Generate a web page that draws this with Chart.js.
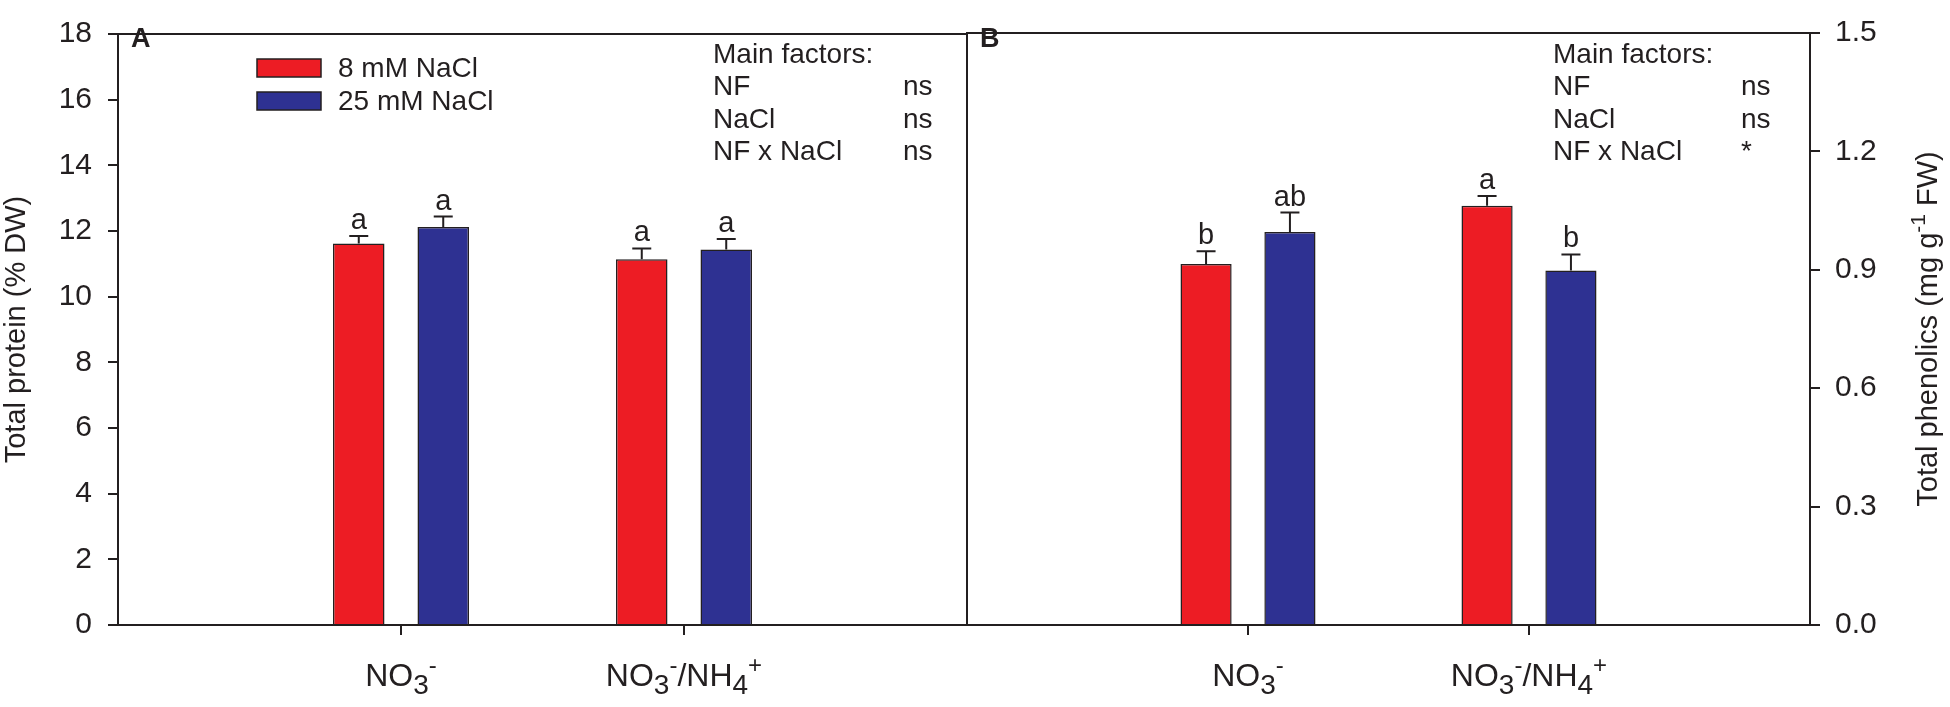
<!DOCTYPE html>
<html>
<head>
<meta charset="utf-8">
<script src="https://cdn.jsdelivr.net/npm/chart.js@4.4.1/dist/chart.umd.min.js"></script>
<style>
  html, body { margin: 0; padding: 0; background: #fff; }
  #wrap { position: relative; width: 1950px; height: 707px; overflow: hidden; }
  canvas { position: absolute; top: 0; }
  #panelA { left: 0; }
  #panelB { left: 964px; }
</style>
</head>
<body>
<div id="wrap">
  <canvas id="panelA" width="970" height="707"></canvas>
  <canvas id="panelB" width="986" height="707"></canvas>
</div>
<script>
const categories = ["NO3-", "NO3-/NH4+"];
const seriesNames = ["8 mM NaCl", "25 mM NaCl"];
const seriesColors = ["#ed1c24", "#2e3192"];

// A: total protein (% DW)
const proteinLow = [11.62, 11.14];
const proteinLowSE = [0.23, 0.33];
const proteinHigh = [12.12, 11.44];
const proteinHighSE = [0.32, 0.32];
const proteinLowLetters = ["a", "a"];
const proteinHighLetters = ["a", "a"];
const proteinTicks = [0, 2, 4, 6, 8, 10, 12, 14, 16, 18];

// B: total phenolics (mg g-1 FW)
const phenolLow = [0.915, 1.062];
const phenolLowSE = [0.032, 0.025];
const phenolHigh = [0.996, 0.898];
const phenolHighSE = [0.049, 0.041];
const phenolLowLetters = ["b", "a"];
const phenolHighLetters = ["ab", "b"];
const phenolTicks = [0, 0.3, 0.6, 0.9, 1.2, 1.5];

const factorNames = ["NF", "NaCl", "NF x NaCl"];
const proteinSignif = ["ns", "ns", "ns"];
const phenolSignif = ["ns", "ns", "*"];

const FONT = "'Liberation Sans', Arial, sans-serif";
const INK = "#231f20";

// split "NO3-" into normal / subscript / superscript runs
function chemParts(label) {
  const parts = [];
  for (const ch of label) {
    let mode = "normal";
    if (/[0-9]/.test(ch)) mode = "sub";
    else if (ch === "+" || ch === "-") mode = "sup";
    const last = parts[parts.length - 1];
    if (last && last.mode === mode) last.t += ch;
    else parts.push({ t: ch, mode });
  }
  return parts;
}

// x = centre, y = baseline
function drawParts(ctx, parts, x, y, size, sub, sup) {
  const sizes = { normal: size, sub: sub, sup: sup };
  const shift = { normal: 0, sub: size * 0.26, sup: -size * 0.42 };
  let total = 0;
  parts.forEach(p => { ctx.font = sizes[p.mode] + "px " + FONT; total += ctx.measureText(p.t).width; });
  let cx = x - total / 2;
  ctx.textAlign = "left";
  ctx.textBaseline = "alphabetic";
  parts.forEach(p => {
    ctx.font = sizes[p.mode] + "px " + FONT;
    ctx.fillText(p.t, cx, y + shift[p.mode]);
    cx += ctx.measureText(p.t).width;
  });
}

const decor = {
  id: "decor",
  afterDatasetsDraw(chart) {
    const { ctx, scales } = chart;
    ctx.save();
    ctx.strokeStyle = INK;
    ctx.fillStyle = INK;
    ctx.lineWidth = 2;
    chart.data.datasets.forEach((ds, di) => {
      const meta = chart.getDatasetMeta(di);
      meta.data.forEach((bar, i) => {
        const yTop = scales.y.getPixelForValue(ds.data[i].y + ds.errors[i]);
        ctx.beginPath();
        ctx.moveTo(bar.x, bar.y);
        ctx.lineTo(bar.x, yTop);
        ctx.moveTo(bar.x - 9.5, yTop);
        ctx.lineTo(bar.x + 9.5, yTop);
        ctx.stroke();
        ctx.font = "29px " + FONT;
        ctx.textAlign = "center";
        ctx.textBaseline = "alphabetic";
        ctx.fillText(ds.letters[i], bar.x, yTop - 7);
      });
    });
    ctx.restore();
  },
  afterDraw(chart, args, o) {
    const { ctx, chartArea: a, scales } = chart;
    ctx.save();
    ctx.strokeStyle = INK;
    ctx.fillStyle = INK;
    ctx.lineWidth = 2;
    ctx.strokeRect(a.left, a.top, a.right - a.left, a.bottom - a.top);

    // panel letter
    ctx.font = "bold 27px " + FONT;
    ctx.textAlign = "left";
    ctx.textBaseline = "alphabetic";
    ctx.fillText(o.panel, a.left + 13, 47);

    // category labels
    categories.forEach((c, i) => {
      drawParts(ctx, chemParts(c), scales.x.getPixelForValue(i + 1), 686, 32, 28, 24);
    });

    // main factors block
    ctx.font = "28px " + FONT;
    ctx.textAlign = "left";
    ctx.fillText("Main factors:", o.factorX, 63);
    factorNames.forEach((f, i) => {
      const y = 95 + i * 32.7;
      ctx.fillText(f, o.factorX, y);
      ctx.fillText(o.signif[i], o.signifX, y);
    });

    // y axis title, reading bottom to top
    ctx.translate(o.titleX, (a.top + a.bottom) / 2);
    ctx.rotate(-Math.PI / 2);
    drawParts(ctx, o.title, 0, 10, 29, 21, 21);
    ctx.restore();

    if (o.legend) {
      ctx.save();
      ctx.strokeStyle = INK;
      ctx.lineWidth = 1.5;
      ctx.font = "28px " + FONT;
      ctx.textAlign = "left";
      ctx.textBaseline = "alphabetic";
      seriesNames.forEach((n, i) => {
        const top = 59 + i * 33;
        ctx.fillStyle = seriesColors[i];
        ctx.fillRect(257, top, 64, 18);
        ctx.strokeRect(257, top, 64, 18);
        ctx.fillStyle = INK;
        ctx.fillText(n, 338, top + 18);
      });
      ctx.restore();
    }
  }
};

function makeDatasets(low, lowSE, lowLet, high, highSE, highLet) {
  return [
    { vals: low, se: lowSE, let: lowLet },
    { vals: high, se: highSE, let: highLet }
  ].map((s, k) => ({
    label: seriesNames[k],
    data: s.vals.map((v, i) => ({ x: i + 1, y: v })),
    errors: s.se,
    letters: s.let,
    backgroundColor: seriesColors[k],
    borderColor: INK,
    borderWidth: 1.5,
    categoryPercentage: 0.597,
    barPercentage: 0.61
  }));
}

function axisX() {
  return {
    type: "linear",
    min: 0,
    max: 3,
    offset: false,
    afterBuildTicks: s => { s.ticks = categories.map((c, i) => ({ value: i + 1 })); },
    afterFit: s => { s.height = 82; },
    grid: { offset: false, drawOnChartArea: false, drawTicks: true, tickLength: 10, color: INK, lineWidth: 2 },
    border: { display: false },
    ticks: { display: false }
  };
}

function axisY(pos, max, ticks, width, fmt) {
  return {
    position: pos,
    min: 0,
    max: max,
    afterBuildTicks: s => { s.ticks = ticks.map(v => ({ value: v })); },
    afterFit: s => { s.width = width; },
    grid: { drawOnChartArea: false, drawTicks: true, tickLength: 10, color: INK, lineWidth: 2 },
    border: { display: false },
    ticks: {
      font: { size: 30, family: FONT },
      color: INK,
      padding: pos === "left" ? 16 : 15,
      callback: fmt
    }
  };
}

const chartA = new Chart(document.getElementById("panelA"), {
  type: "bar",
  data: { datasets: makeDatasets(proteinLow, proteinLowSE, proteinLowLetters, proteinHigh, proteinHighSE, proteinHighLetters) },
  options: {
    responsive: false,
    animation: false,
    devicePixelRatio: 1,
    layout: { padding: { top: 16, left: 0, right: 3, bottom: 0 } },
    scales: {
      x: axisX(),
      y: axisY("left", 18, proteinTicks, 118, v => v)
    },
    plugins: {
      legend: { display: false },
      tooltip: { enabled: false },
      decor: {
        panel: "A",
        legend: true,
        factorX: 713,
        signifX: 903,
        signif: proteinSignif,
        titleX: 15,
        title: [{ t: "Total protein (% DW)", mode: "normal" }]
      }
    }
  },
  plugins: [decor]
});

const chartB = new Chart(document.getElementById("panelB"), {
  type: "bar",
  data: { datasets: makeDatasets(phenolLow, phenolLowSE, phenolLowLetters, phenolHigh, phenolHighSE, phenolHighLetters) },
  options: {
    responsive: false,
    animation: false,
    devicePixelRatio: 1,
    layout: { padding: { top: 16, left: 3, right: 0, bottom: 0 } },
    scales: {
      x: axisX(),
      y: axisY("right", 1.5, phenolTicks, 140, v => v.toFixed(1))
    },
    plugins: {
      legend: { display: false },
      tooltip: { enabled: false },
      decor: {
        panel: "B",
        legend: false,
        factorX: 589,
        signifX: 777,
        signif: phenolSignif,
        titleX: 963,
        title: [
          { t: "Total phenolics (mg g", mode: "normal" },
          { t: "-1", mode: "sup" },
          { t: " FW)", mode: "normal" }
        ]
      }
    }
  },
  plugins: [decor]
});
</script>
</body>
</html>
